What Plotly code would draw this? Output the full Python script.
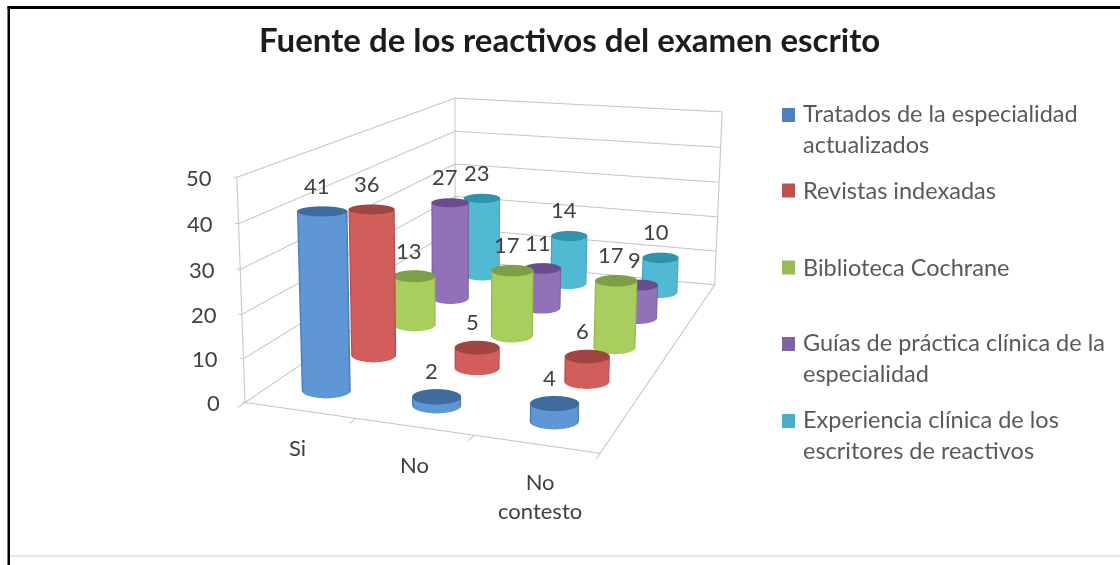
import numpy as np
import plotly.graph_objects as go

categories = ["Si", "No", "No<br>contesto"]
series_names = ["Tratados de la especialidad<br>actualizados", "Revistas indexadas", "Biblioteca Cochrane",
                "Guías de práctica clínica de la<br>especialidad", "Experiencia clínica de los<br>escritores de reactivos"]
tratados = [41, 2, 4]
revistas = [36, 5, 6]
biblioteca = [13, 17, 17]
guias = [27, 11, 9]
experiencia = [23, 14, 10]
z_ticks = [0, 10, 20, 30, 40, 50]
edge_colors = ["#3a659a", "#a63f3c", "#84a544", "#694c8e", "#318ea8"]
mid_colors = ["#5f96d6", "#d25e5c", "#a9ce60", "#9271b8", "#52b9d5"]
cap_colors = ["#3f6b9f", "#a24442", "#7f9f46", "#6a4d8d", "#2f93ab"]
legend_colors = ["#4f81bd", "#c0504d", "#9bbb59", "#8064a2", "#4bacc6"]
cyl_px_width = [49, 45, 42, 37, 36]

# Scene view: aspect, camera, and the oblique skew of the chart box
ax, ay, az = 1.4285, 1.4011, 0.8243
ex, ey, ez = 1.0833, -2.4413, 1.3082
cx, cy, cz = 0.3363, 0.2057, -0.1859
sa, sb, sc, sd = -0.1594, 1.1587, 0.3611, 0.6255
VH = 565.0
px0 = 560.0


def sxy(x, y, z):
    x, y, z = np.asarray(x, float), np.asarray(y, float), np.asarray(z, float)
    return x + sa * z / 50 + sd * y / 5, y + sb * z / 50 + sc * x / 3


def project(x, y, z):
    xs, ys = sxy(x, y, z)
    W = np.array([(xs / 3 - .5) * ax, (ys / 5 - .5) * ay, (z / 50 - .5) * az])
    e = np.array([ex, ey, ez])
    f = np.array([cx, cy, cz]) - e
    f = f / np.linalg.norm(f)
    s = np.cross(f, [0, 0, 1.0])
    s = s / np.linalg.norm(s)
    u = np.cross(s, f)
    v = W - e
    k = VH / 2 / np.tan(np.pi / 8)
    return np.array([px0 + k * v.dot(s) / v.dot(f), VH / 2 - k * v.dot(u) / v.dot(f)])


all_series = [tratados, revistas, biblioteca, guias, experiencia]
fig = go.Figure()
th = np.linspace(0, 2 * np.pi, 61)
flat = dict(ambient=1, diffuse=0, specular=0, fresnel=0)


def cyl(xc, yc, h, si):
    e = 1e-3
    Jm = np.column_stack([(project(xc + e, yc, 0) - project(xc - e, yc, 0)) / (2 * e),
                          (project(xc, yc + e, 0) - project(xc, yc - e, 0)) / (2 * e)])
    Ji = np.linalg.inv(Jm)
    W = cyl_px_width[si]
    off = Ji @ np.vstack([W / 2 * np.cos(th), 0.16 * W * np.sin(th)])
    X0 = np.array([xc + off[0]] * 2)
    Y0 = np.array([yc + off[1]] * 2)
    Z = np.array([np.zeros_like(th), np.full_like(th, h)])
    shade = np.clip(np.sin(th), 0, 1)
    S = np.array([shade, shade])
    Xs, Ys = sxy(X0, Y0, Z)
    fig.add_trace(go.Surface(x=Xs, y=Ys, z=Z, surfacecolor=S, cmin=0, cmax=1, showscale=False,
                             colorscale=[[0, edge_colors[si]], [0.45, mid_colors[si]], [1, mid_colors[si]]],
                             lighting=flat, hoverinfo="skip"))
    r = np.array([0, 1.0])
    X2 = xc + np.outer(r, off[0])
    Y2 = yc + np.outer(r, off[1])
    Z2 = np.full_like(X2, h)
    Xs2, Ys2 = sxy(X2, Y2, Z2)
    fig.add_trace(go.Surface(x=Xs2, y=Ys2, z=Z2, surfacecolor=np.zeros_like(X2), cmin=0, cmax=1, showscale=False,
                             colorscale=[[0, cap_colors[si]], [1, cap_colors[si]]],
                             lighting=flat, hoverinfo="skip"))


grid = "#c4c4c4"


def line(xs, ys, zs):
    X, Y = sxy(xs, ys, zs)
    fig.add_trace(go.Scatter3d(x=X, y=Y, z=zs, mode="lines", line=dict(color=grid, width=2),
                               hoverinfo="skip", showlegend=False))


for t in z_ticks:
    line([-0.03, 0, 0, 3], [0, 0, 5, 5], [t, t, t, t])
line([0, 0], [0, 0], [0, 50])
line([0, 0], [5, 5], [0, 50])
line([3, 3], [5, 5], [0, 50])
line([0, 3, 3], [0, 0, 5], [0, 0, 0])
for i in range(4):
    line([i, i], [0, -0.12], [0, 0])
for si, vals in enumerate(all_series):
    for ci, v in enumerate(vals):
        cyl(ci + 0.5, si + 0.5, v, si)

ann3d = []
lab = "#404040"


def a3(x, y, z, text, **kw):
    X, Y = sxy(x, y, z)
    ann3d.append(dict(x=float(X), y=float(Y), z=z, text=text, showarrow=False,
                      font=dict(family="Lato", size=22, color=lab), **kw))


for si, vals in enumerate(all_series):
    for ci, v in enumerate(vals):
        a3(ci + 0.5, si + 0.5, v, str(v), yshift=26, xshift=-5)
for t in z_ticks:
    a3(-0.03, 0, t, str(t), xanchor="right", xshift=-20)
for ci, c in enumerate(categories):
    a3(ci + 0.5, 0, 0, c, yanchor="top", yshift=-22, xshift=-2 + 3 * ci)

annotations = [dict(x=569, y=39, xref="x", yref="y", text="<b>Fuente de los reactivos del examen escrito</b>",
                    showarrow=False, font=dict(family="Lato", size=33, color="#1c1c1c"))]
legend_y = [115, 190.5, 267.5, 344, 421]
shapes = []
for n, col, y in zip(series_names, legend_colors, legend_y):
    ny = y + (13 if "<br>" in n else -1)
    annotations.append(dict(x=801, y=ny, xref="x", yref="y", xanchor="left", yanchor="middle", align="left",
                            text=n, showarrow=False, font=dict(family="Lato", size=23.5, color="#595959")))
    shapes.append(dict(type="rect", xref="x", yref="y", x0=782, x1=795, y0=y - 7, y1=y + 7,
                       fillcolor=col, line=dict(width=0)))
for a, b, c, d in [(7.5, 6, 10, 565), (7.5, 6, 1120, 9)]:
    shapes.append(dict(type="rect", xref="x", yref="y", x0=a, y0=b, x1=c, y1=d, fillcolor="#000", line=dict(width=0)))
shapes.append(dict(type="rect", xref="x", yref="y", x0=10, y0=555, x1=1120, y1=557,
                   fillcolor="#e6e6e6", line=dict(width=0)))

fig.update_layout(
    template="none", width=1120, height=565, margin=dict(l=0, r=0, t=0, b=0),
    paper_bgcolor="white", plot_bgcolor="rgba(0,0,0,0)", showlegend=False,
    xaxis=dict(range=[0, 1120], visible=False), yaxis=dict(range=[565, 0], visible=False),
    annotations=annotations, shapes=shapes,
    scene=dict(domain=dict(x=[0, 1], y=[0, 1]), bgcolor="rgba(0,0,0,0)",
               xaxis=dict(visible=False, range=[-1.5, 4.5]),
               yaxis=dict(visible=False, range=[-2.5, 7.5]),
               zaxis=dict(visible=False, range=[0, 50]),
               aspectmode="manual", aspectratio=dict(x=2 * ax, y=2 * ay, z=az),
               camera=dict(eye=dict(x=ex, y=ey, z=ez), center=dict(x=cx, y=cy, z=cz),
                           up=dict(x=0, y=0, z=1), projection=dict(type="perspective")),
               annotations=ann3d))
fig.write_html("out.html", post_script="document.body.style.margin='0';", config=dict(displayModeBar=False))
